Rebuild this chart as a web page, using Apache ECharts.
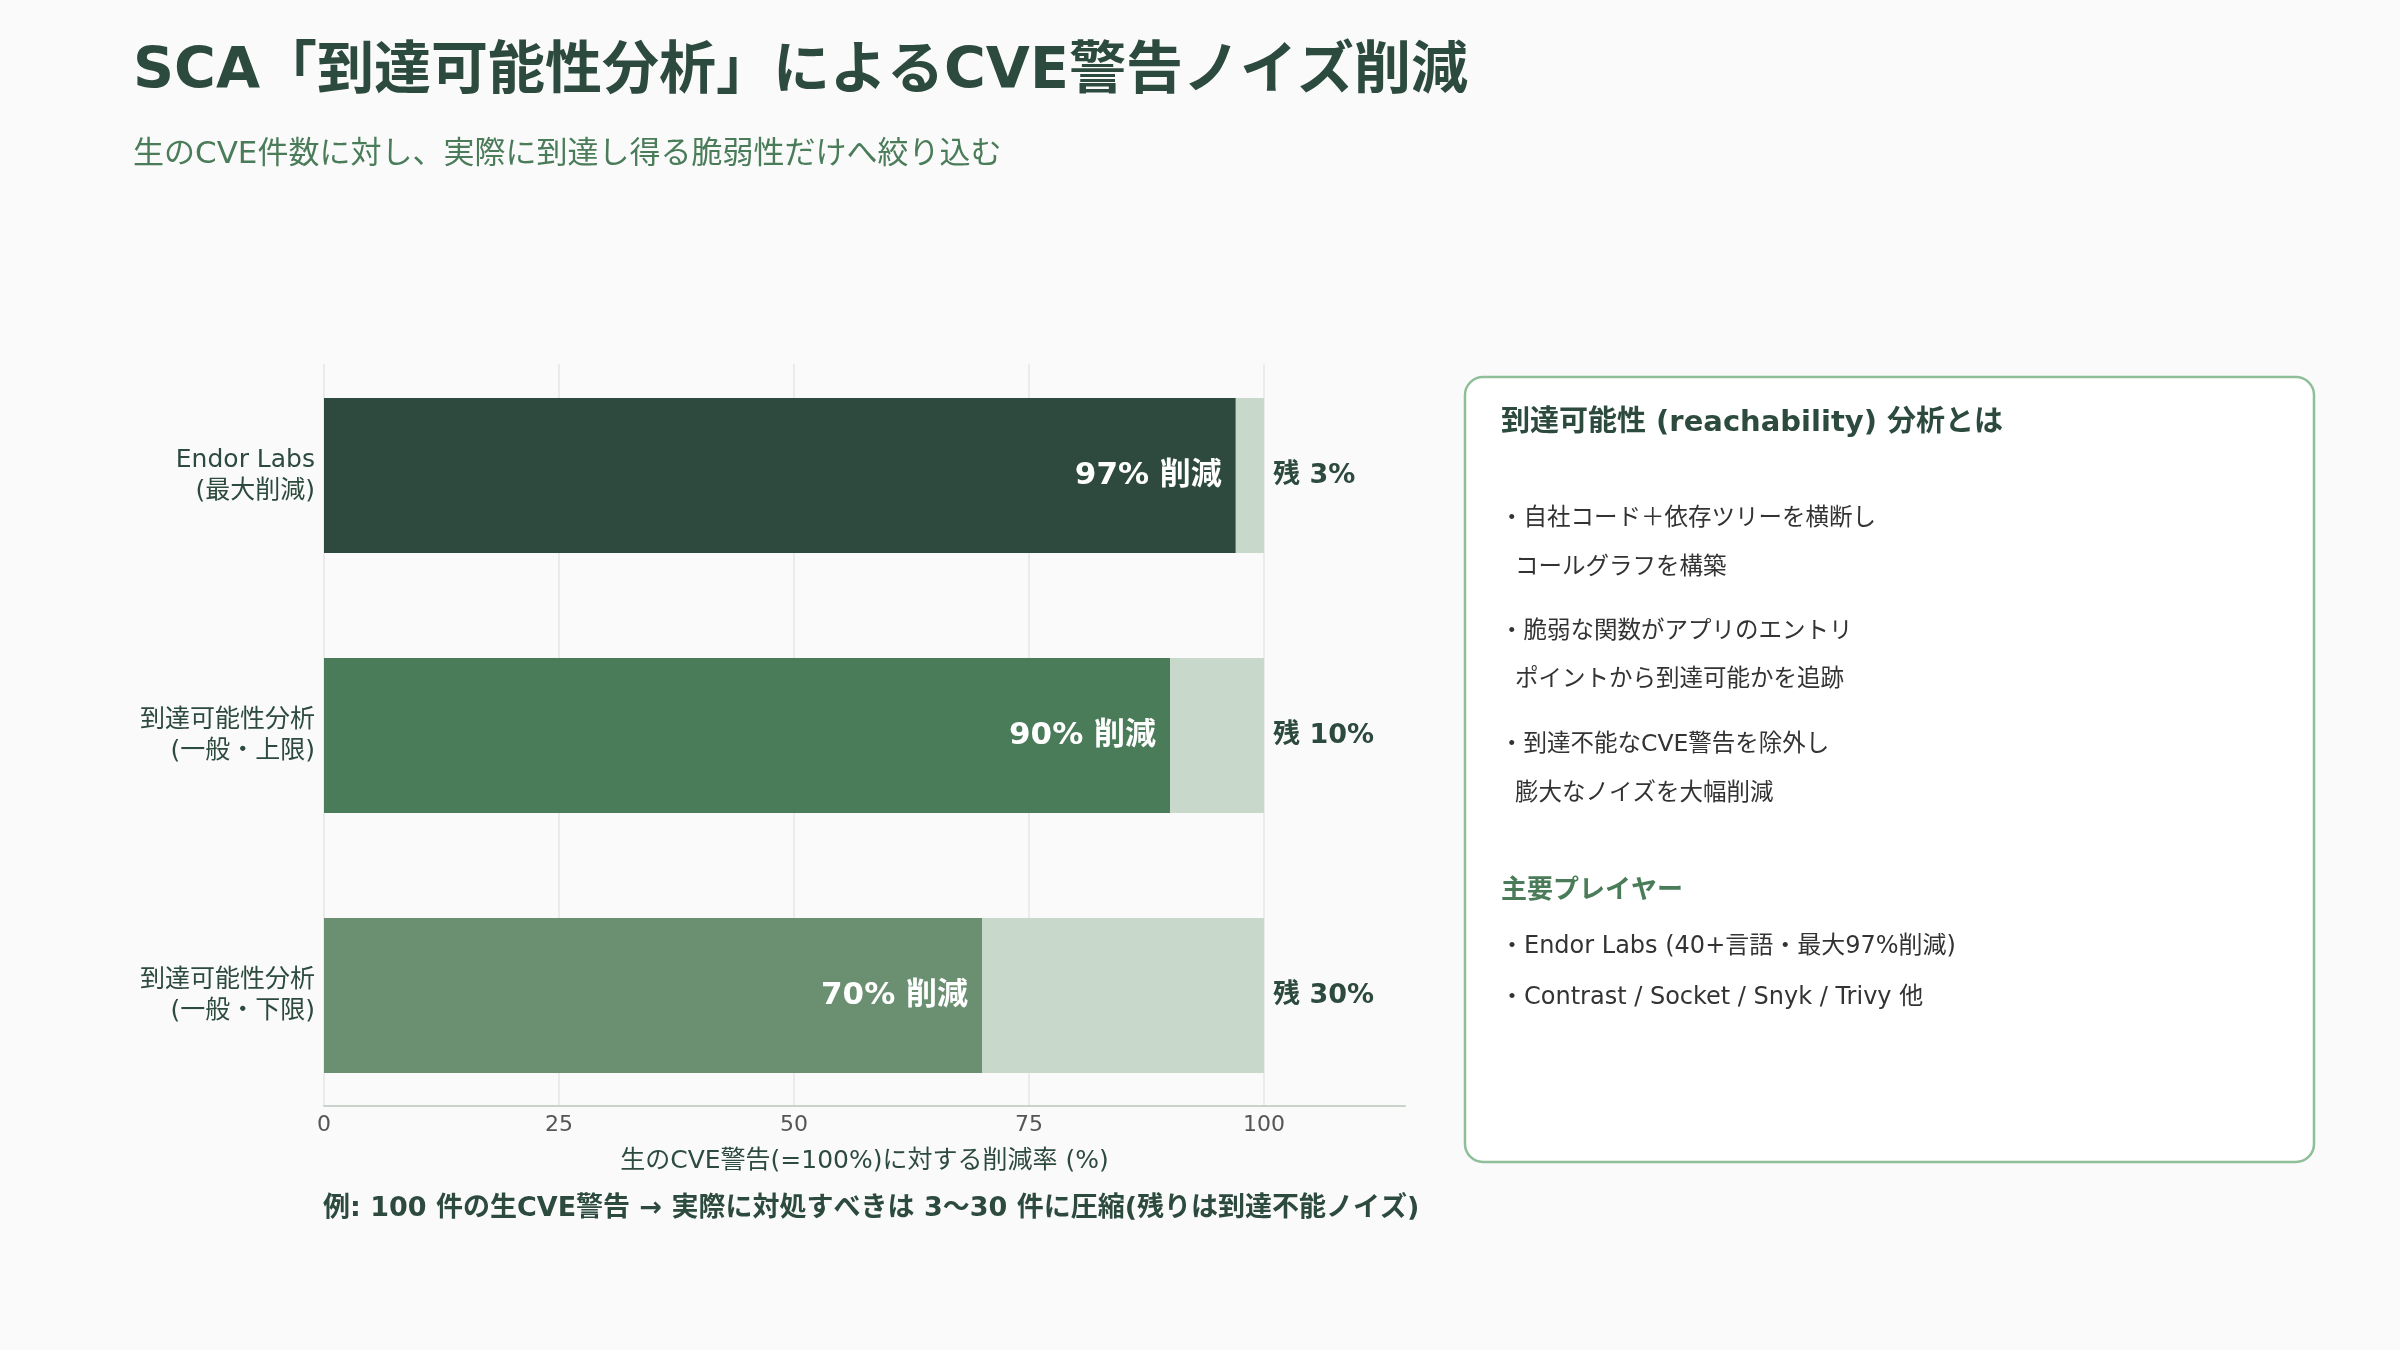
<!DOCTYPE html>
<html lang="ja">
<head>
<meta charset="utf-8">
<title>SCA 到達可能性分析</title>
<script src="https://cdn.jsdelivr.net/npm/echarts@6/dist/echarts.min.js"></script>
<style>
  html, body {
    margin: 0;
    padding: 0;
    background: #fafafa;
  }

  #chart {
    width: 2400px;
    height: 1350px;
  }
</style>
</head>
<body>
<div id="chart"></div>
<script>
// データ
const categories = ['Endor Labs\n(最大削減)', '到達可能性分析\n(一般・上限)', '到達可能性分析\n(一般・下限)']
const reduction = [97, 90, 70]
const remaining = [3, 10, 30]
const xTicks = [0, 25, 50, 75, 100]

const FONT = '"DejaVu Sans", "Noto Sans CJK JP", sans-serif'
const DARK = '#2d4a3e'
const MID = '#4a7c59'
const barColors = ['#2e4a3e', '#4a7c59', '#6b9071']

// 右側パネルの文言
const panelHeading = '到達可能性 (reachability) 分析とは'
const panelLines = [
  { text: '・自社コード＋依存ツリーを横断し', x: 1500, y: 519 },
  { text: 'コールグラフを構築', x: 1515, y: 568 },
  { text: '・脆弱な関数がアプリのエントリ', x: 1500, y: 632 },
  { text: 'ポイントから到達可能かを追跡', x: 1515, y: 680 },
  { text: '・到達不能なCVE警告を除外し', x: 1500, y: 745 },
  { text: '膨大なノイズを大幅削減', x: 1515, y: 794 },
]
const playersHeading = '主要プレイヤー'
const players = [
  { text: '・Endor Labs (40+言語・最大97%削減)', y: 947 },
  { text: '・Contrast / Socket / Snyk / Trivy 他', y: 998 },
]

const chart = echarts.init(document.getElementById('chart'))

const textEl = (text, x, y, size, color, weight) => ({
  type: 'text',
  x,
  y,
  style: {
    text,
    fill: color,
    font: `${weight || 'normal'} ${size}px ${FONT}`,
    verticalAlign: 'middle',
  },
})

const option = {
  backgroundColor: '#fafafa',
  textStyle: { fontFamily: FONT },
  animation: false,
  grid: [
    // 棒用
    { left: 324, right: 995, top: 345.5, bottom: 224.5 },
    // 軸・グリッド線用
    { left: 324, right: 995, top: 364, bottom: 244 },
  ],
  xAxis: [
    {
      gridIndex: 0,
      type: 'value',
      min: 0,
      max: 115,
      show: false,
    },
    {
      gridIndex: 1,
      type: 'value',
      min: 0,
      max: 115,
      interval: 25,
      axisLine: { show: true, lineStyle: { color: '#c8d3cb', width: 2 } },
      axisTick: { show: false },
      axisLabel: {
        showMaxLabel: false,
        color: '#555',
        fontSize: 22,
        margin: 8,
        formatter: (v) => (xTicks.includes(v) ? String(v) : ''),
      },
      splitLine: {
        show: true,
        showMaxLine: false,
        lineStyle: { color: '#e6e6e6', width: 1.5 },
      },
      name: '生のCVE警告(=100%)に対する削減率 (%)',
      nameLocation: 'middle',
      nameGap: 43,
      nameTextStyle: { color: DARK, fontSize: 25 },
    },
  ],
  yAxis: [
    {
      gridIndex: 0,
      type: 'category',
      inverse: true,
      data: categories,
      axisLine: { show: false },
      axisTick: { show: false },
      splitLine: { show: false },
      axisLabel: {
        color: DARK,
        fontSize: 25,
        lineHeight: 31,
        margin: 9,
        align: 'right',
      },
    },
    {
      gridIndex: 1,
      type: 'category',
      data: categories,
      show: false,
    },
  ],
  series: [
    {
      name: '削減',
      type: 'bar',
      xAxisIndex: 0,
      yAxisIndex: 0,
      stack: 'total',
      barWidth: 155,
      data: reduction.map((v, i) => ({ value: v, itemStyle: { color: barColors[i] } })),
      label: {
        show: true,
        position: 'insideRight',
        distance: 14,
        formatter: '{c}% 削減',
        color: '#ffffff',
        fontSize: 31,
        fontWeight: 'bold',
      },
    },
    {
      name: '残',
      type: 'bar',
      xAxisIndex: 0,
      yAxisIndex: 0,
      stack: 'total',
      barWidth: 155,
      itemStyle: { color: '#c8d9cb' },
      data: remaining,
      label: {
        show: true,
        position: 'right',
        distance: 9,
        formatter: '残 {c}%',
        color: DARK,
        fontSize: 27,
        fontWeight: 'bold',
      },
    },
  ],
  graphic: [
    textEl('SCA「到達可能性分析」によるCVE警告ノイズ削減', 133, 73, 57, DARK, 'bold'),
    textEl('生のCVE件数に対し、実際に到達し得る脆弱性だけへ絞り込む', 133, 155, 31, MID),
    textEl('例: 100 件の生CVE警告 → 実際に対処すべきは 3〜30 件に圧縮(残りは到達不能ノイズ)', 323, 1209, 27, DARK, 'bold'),
    {
      type: 'rect',
      shape: { x: 1465, y: 377, width: 849, height: 785, r: 18 },
      style: { fill: '#ffffff', stroke: '#8fbf98', lineWidth: 2.5 },
    },
    textEl(panelHeading, 1501, 423, 29, DARK, 'bold'),
    ...panelLines.map((l) => textEl(l.text, l.x, l.y, 23.5, '#333333')),
    textEl(playersHeading, 1501, 891, 26, MID, 'bold'),
    ...players.map((p) => textEl(p.text, 1500, p.y, 24, '#333333')),
  ],
}

chart.setOption(option)
</script>
</body>
</html>
